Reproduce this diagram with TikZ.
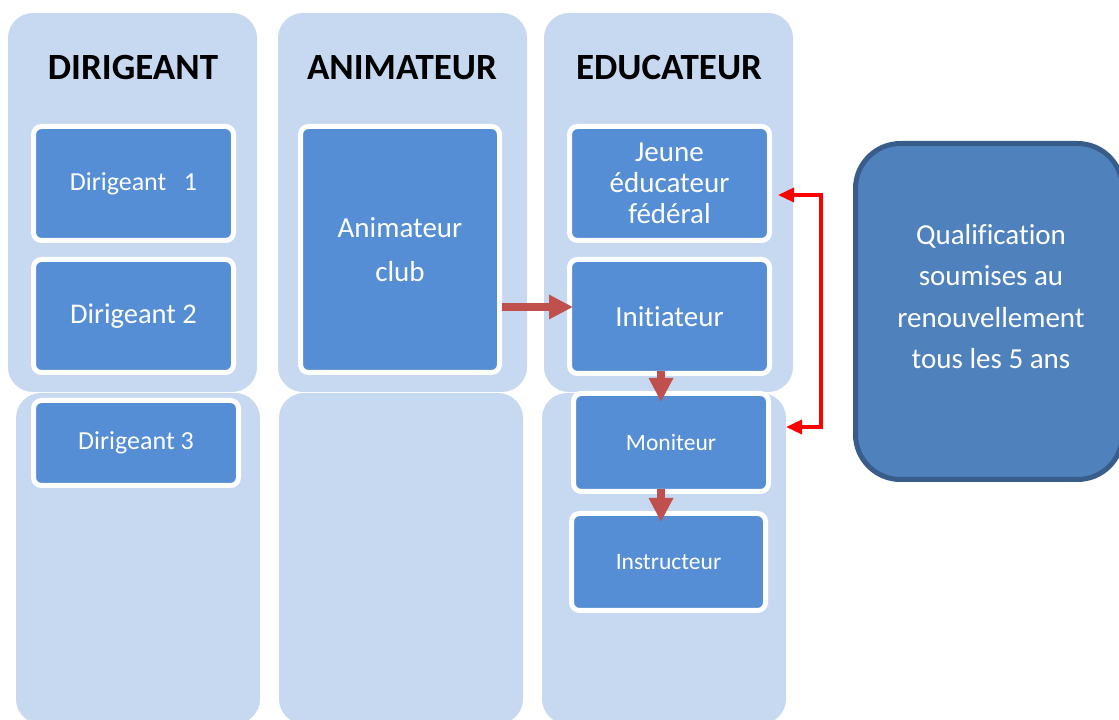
\documentclass[tikz,border=0pt]{standalone}
\usepackage{fontspec}
\setmainfont{Carlito}[Ligatures=NoCommon]
\usetikzlibrary{arrows.meta, positioning}

\definecolor{colbg}{HTML}{C6D9F1}
\definecolor{boxblue}{HTML}{558ED5}
\definecolor{arrowbrown}{HTML}{C0504D}
\definecolor{qualfill}{HTML}{4F81BD}
\definecolor{qualborder}{HTML}{385D8A}

\begin{document}
\begin{tikzpicture}[x=1pt, y=1pt,
	column/.style={fill=colbg, rounded corners=25pt, inner sep=0pt},
	head/.style={font=\fontsize{37}{40}\selectfont\bfseries},
	level/.style={draw=white, line width=5pt, fill=boxblue, rounded corners=8pt,
		text=white, inner sep=0pt, align=center},
	bigarrow/.style={-{Triangle[length=24pt, width=23pt]}, draw=arrowbrown, line width=8pt},
	renew/.style={{Triangle[length=16pt, width=14pt]}-{Triangle[length=16pt, width=14pt]},
		draw=red, line width=3.5pt}]
	\useasboundingbox (0,0) rectangle (1119,720);
	\clip (0,0) rectangle (1119,720);

	% columns
	\node[column, minimum width=249pt, minimum height=379pt] (col_dir) at (132.5,517.5) {};
	\node[column, minimum width=249pt, minimum height=379pt] (col_anim) at (402.5,517.5) {};
	\node[column, minimum width=249pt, minimum height=379pt] (col_edu) at (668.5,517.5) {};
	\node[column, minimum width=244pt, minimum height=331pt] (col_dir_low) at (138,161.5) {};
	\node[column, minimum width=244pt, minimum height=331pt] (col_anim_low) at (401,161.5) {};
	\node[column, minimum width=244pt, minimum height=331pt] (col_edu_low) at (664,161.5) {};

	\node[head] (h_dir) at (133,652) {DIRIGEANT};
	\node[head] (h_anim) at (402,652) {ANIMATEUR};
	\node[head] (h_edu) at (669,652) {EDUCATEUR};

	% dirigeants
	\node[level, minimum width=200pt, minimum height=114pt, font=\fontsize{26}{30}\selectfont]
		(dir_1) at (133.5,536.5) {Dirigeant~~~1};
	\node[level, minimum width=200pt, minimum height=113pt, font=\fontsize{28.5}{32}\selectfont,
		below=14pt of dir_1] (dir_2) {Dirigeant 2};
	\node[level, minimum width=205pt, minimum height=85pt, font=\fontsize{26}{30}\selectfont,
		below=23pt of dir_2, xshift=2.5pt] (dir_3) {Dirigeant 3};

	% animateur
	\node[level, minimum width=199pt, minimum height=246pt, font=\fontsize{29}{44}\selectfont]
		(anim) at (400,470.5) {Animateur\\club};

	% educateurs
	\node[level, minimum width=200pt, minimum height=114pt, font=\fontsize{29}{31}\selectfont]
		(jeune) at (669.5,536.5) {Jeune\\éducateur\\fédéral};
	\node[level, minimum width=200pt, minimum height=114pt, font=\fontsize{29}{32}\selectfont,
		below=14pt of jeune] (init) {Initiateur};
	\node[level, minimum width=195pt, minimum height=98pt, font=\fontsize{23.5}{27}\selectfont,
		below=15pt of init, xshift=1.5pt] (monit) {Moniteur};
	\node[level, minimum width=194pt, minimum height=97pt, font=\fontsize{23.5}{27}\selectfont,
		below=17pt of monit, xshift=-2.5pt] (instr) {Instructeur};

	% qualification
	\node[draw=qualborder, line width=5pt, fill=qualfill, rounded corners=45pt,
		minimum width=267pt, minimum height=336pt] (qualif) at (989,408.5) {};
	\node[text=white, align=center, font=\fontsize{29}{41.5}\selectfont]
		(qualif_text) at ([xshift=2pt, yshift=15pt]qualif.center)
		{Qualification\\soumises au\\renouvellement\\tous les 5 ans};

	% arrows
	\coordinate (h_level) at (0,413);
	\coordinate (v_level) at (661,0);
	\draw[bigarrow] (anim.east |- h_level) -- ([xshift=6pt]init.west |- h_level);
	\draw[bigarrow] ([yshift=5pt]init.south -| v_level) -- ([yshift=-11pt]monit.north -| v_level);
	\draw[bigarrow] ([yshift=5pt]monit.south -| v_level) -- ([yshift=-11pt]instr.north -| v_level);

	\draw[renew] ([xshift=6pt]jeune.east |- 0,525) -- ++(43,0) |- ([xshift=15pt]monit.east |- 0,293);
\end{tikzpicture}
\end{document}
